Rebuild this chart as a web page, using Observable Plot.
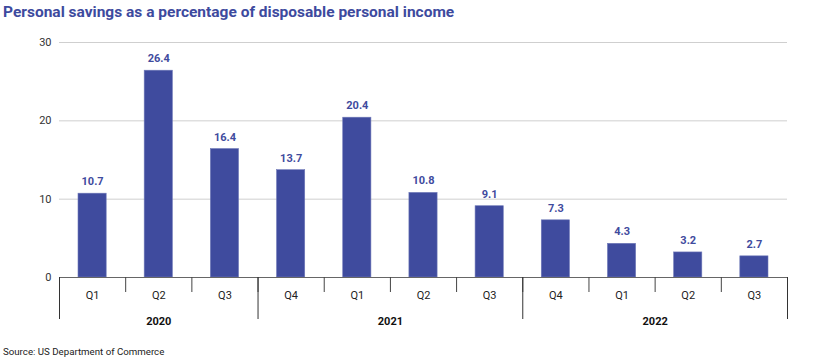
<!DOCTYPE html>
<html>
<head>
<meta charset="utf-8">
<script src="https://cdn.jsdelivr.net/npm/d3@7"></script>
<script src="https://cdn.jsdelivr.net/npm/@observablehq/plot@0.6"></script>
<style>
  body { margin: 0; background: #fff; font-family: Roboto, "Noto Sans", sans-serif; }
  #title { height: 26px; line-height: 24px; padding-left: 3px; font-size: 15.5px; font-weight: 700; color: #3d4a9e; white-space: nowrap; }
  #source { height: 20px; line-height: 22px; padding-left: 3px; font-size: 9.7px; color: #222; }
  svg { display: block; }
</style>
</head>
<body>
<div id="title">Personal savings as a percentage of disposable personal income</div>
<div id="chart"></div>
<div id="source">Source: US Department of Commerce</div>
<script>
const quarters = ["Q1", "Q2", "Q3", "Q4", "Q1", "Q2", "Q3", "Q4", "Q1", "Q2", "Q3"];
const yearOf = ["2020", "2020", "2020", "2021", "2021", "2021", "2021", "2022", "2022", "2022", "2022"];
const values = [10.7, 26.4, 16.4, 13.7, 20.4, 10.8, 9.1, 7.3, 4.3, 3.2, 2.7];
const yTicks = [0, 10, 20, 30];

const data = values.map((v, i) => ({i, v, q: quarters[i], year: yearOf[i]}));
const n = data.length;

// year groups derived from data
const groups = [];
yearOf.forEach((y, i) => {
  if (!groups.length || groups[groups.length - 1].year !== y) groups.push({year: y, start: i, end: i + 1});
  else groups[groups.length - 1].end = i + 1;
});
const yearBounds = [0, ...groups.map(g => g.end)];
const yearCenters = groups.map(g => (g.start + g.end) / 2);
const quarterBounds = d3.range(0, n + 1);
const quarterCenters = d3.range(0, n).map(i => i + 0.5);

const blue = "#3f4b9e";

const plot = Plot.plot({
  width: 830,
  height: 315,
  marginLeft: 59,
  marginRight: 43,
  marginTop: 16,
  marginBottom: 64,
  style: {fontFamily: "Roboto, 'Noto Sans', sans-serif", fontSize: "11px", color: "#333"},
  x: {domain: [0, n], axis: null},
  y: {domain: [0, 30], axis: null},
  marks: [
    Plot.gridY(yTicks.filter(t => t > 0), {stroke: "#cfcfcf", strokeOpacity: 1}),
    Plot.axisY(yTicks, {tickSize: 0, tickPadding: 8, fontSize: 11, fill: "#333", label: null}),
    Plot.rectY(data, {x1: d => d.i, x2: d => d.i + 1, y: "v", insetLeft: 19, insetRight: 19, fill: blue, stroke: "#6f79b8", strokeWidth: 0.6}),
    Plot.text(data, {x: d => d.i + 0.5, y: "v", text: d => d.v.toFixed(1), dy: -12, fill: blue, fontWeight: 700, fontSize: 11}),
    Plot.ruleY([0], {stroke: "#666"}),
    Plot.axisX(quarterBounds, {anchor: "bottom", tickSize: 15, tickFormat: () => "", stroke: "#444", label: null}),
    Plot.axisX(yearBounds, {anchor: "bottom", tickSize: 42, tickFormat: () => "", stroke: "#333", label: null}),
    Plot.axisX(quarterCenters, {anchor: "bottom", tickSize: 0, tickPadding: 14, tickFormat: d => quarters[Math.floor(d)], fontSize: 11, fill: "#222", label: null}),
    Plot.axisX(yearCenters, {anchor: "bottom", tickSize: 0, tickPadding: 40, tickFormat: (d, k) => groups[k].year, fontSize: 11, fontWeight: 700, fill: "#111", label: null})
  ]
});
document.getElementById("chart").appendChild(plot);
</script>
</body>
</html>
